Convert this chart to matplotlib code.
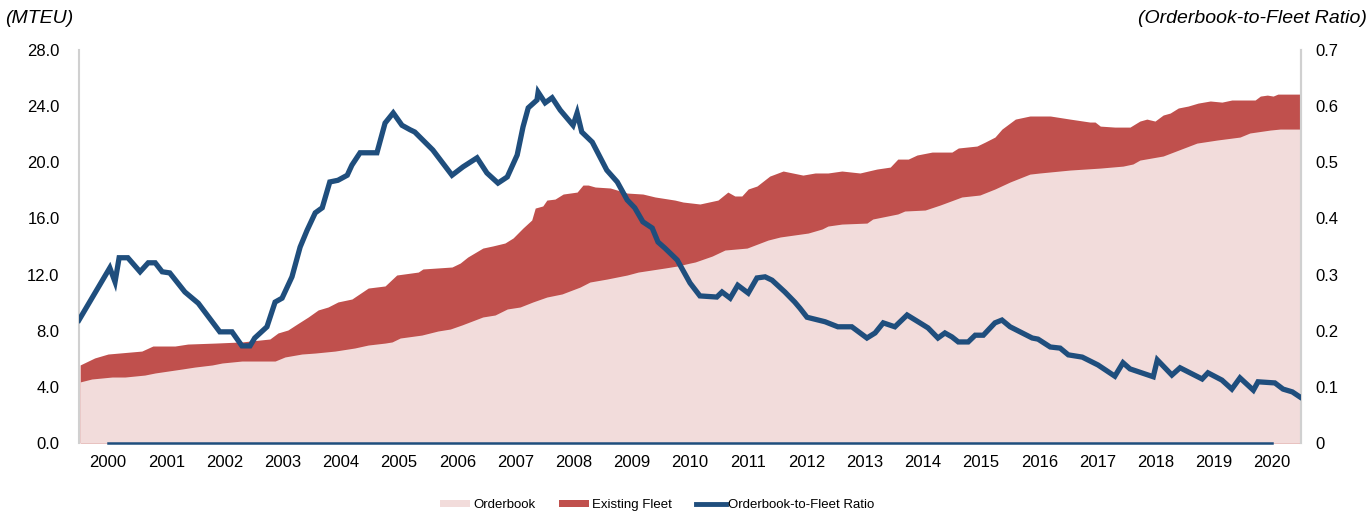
import matplotlib
matplotlib.use("Agg")
import matplotlib.pyplot as plt
from matplotlib.patches import Patch
from matplotlib.lines import Line2D

plt.rcParams['font.family'] = ['Liberation Sans', 'DejaVu Sans']

# ---- Data ----
ratio_x = [2000.0, 2000.53, 2000.62, 2000.69, 2000.84, 2001.05, 2001.19, 2001.31, 2001.43, 2001.56,
           2001.82, 2002.05, 2002.42, 2002.63, 2002.80, 2002.94, 2003.02, 2003.23, 2003.37, 2003.49,
           2003.66, 2003.80, 2003.92, 2004.06, 2004.18, 2004.31, 2004.45, 2004.61, 2004.69, 2004.83,
           2005.12, 2005.26, 2005.40, 2005.55, 2005.69, 2005.77, 2006.08, 2006.41, 2006.60, 2006.84,
           2007.01, 2007.20, 2007.36, 2007.53, 2007.63, 2007.72, 2007.87, 2007.89, 2008.01, 2008.13,
           2008.27, 2008.49, 2008.56, 2008.64, 2008.82, 2009.07, 2009.25, 2009.42, 2009.55, 2009.69,
           2009.85, 2009.95, 2010.07, 2010.28, 2010.50, 2010.67, 2010.96, 2011.05, 2011.19, 2011.32,
           2011.50, 2011.65, 2011.79, 2011.91, 2012.13, 2012.30, 2012.39, 2012.51, 2012.82, 2013.04,
           2013.28, 2013.54, 2013.68, 2013.82, 2014.02, 2014.23, 2014.45, 2014.59, 2014.76, 2014.88,
           2015.00, 2015.11, 2015.28, 2015.40, 2015.54, 2015.74, 2015.86, 2016.00, 2016.38, 2016.48,
           2016.69, 2016.86, 2017.00, 2017.24, 2017.51, 2017.80, 2017.94, 2018.06, 2018.46, 2018.53,
           2018.78, 2018.92, 2019.30, 2019.40, 2019.64, 2019.81, 2019.95, 2020.18, 2020.26, 2020.55,
           2020.69, 2020.85, 2020.98]
ratio_y = [0.219, 0.312, 0.287, 0.330, 0.330, 0.305, 0.321, 0.321, 0.305, 0.303,
           0.269, 0.249, 0.198, 0.198, 0.173, 0.173, 0.187, 0.207, 0.251, 0.258,
           0.296, 0.349, 0.379, 0.410, 0.419, 0.465, 0.468, 0.477, 0.495, 0.517,
           0.517, 0.570, 0.588, 0.566, 0.558, 0.554, 0.522, 0.477, 0.492, 0.508,
           0.481, 0.463, 0.474, 0.513, 0.563, 0.597, 0.611, 0.625, 0.606, 0.615,
           0.593, 0.566, 0.588, 0.554, 0.536, 0.486, 0.465, 0.433, 0.419, 0.394,
           0.383, 0.358, 0.347, 0.326, 0.285, 0.262, 0.260, 0.269, 0.258, 0.281,
           0.267, 0.294, 0.296, 0.290, 0.269, 0.251, 0.240, 0.224, 0.216, 0.207,
           0.207, 0.187, 0.196, 0.214, 0.207, 0.228, 0.214, 0.205, 0.187, 0.196,
           0.189, 0.180, 0.180, 0.192, 0.192, 0.214, 0.219, 0.207, 0.187, 0.185,
           0.171, 0.169, 0.157, 0.153, 0.139, 0.119, 0.143, 0.132, 0.118, 0.148,
           0.121, 0.134, 0.114, 0.125, 0.112, 0.096, 0.116, 0.094, 0.109, 0.107,
           0.096, 0.091, 0.082]

fleet_x = [2000.02, 2000.27, 2000.50, 2001.08, 2001.27, 2001.65, 2001.87, 2002.34, 2002.80, 2003.28,
           2003.42, 2003.59, 2003.75, 2003.94, 2004.11, 2004.28, 2004.45, 2004.69, 2004.97, 2005.26,
           2005.46, 2005.83, 2005.91, 2006.41, 2006.55, 2006.68, 2006.94, 2007.11, 2007.32, 2007.46,
           2007.63, 2007.78, 2007.84, 2007.97, 2008.04, 2008.18, 2008.32, 2008.56, 2008.66, 2008.75,
           2008.87, 2009.13, 2009.42, 2009.69, 2009.90, 2010.24, 2010.38, 2010.67, 2010.98, 2011.15,
           2011.27, 2011.39, 2011.50, 2011.65, 2011.87, 2012.10, 2012.44, 2012.65, 2012.87, 2013.11,
           2013.42, 2013.71, 2013.94, 2014.07, 2014.25, 2014.40, 2014.66, 2015.00, 2015.11, 2015.43,
           2015.57, 2015.74, 2015.86, 2016.09, 2016.34, 2016.69, 2017.03, 2017.37, 2017.46, 2017.55,
           2017.80, 2018.06, 2018.23, 2018.35, 2018.49, 2018.63, 2018.75, 2018.89, 2019.06, 2019.23,
           2019.44, 2019.64, 2019.81, 2020.21, 2020.30, 2020.42, 2020.52, 2020.60, 2021.00]
fleet_y = [5.56, 6.06, 6.34, 6.55, 6.91, 6.91, 7.05, 7.12, 7.20, 7.41,
           7.84, 8.05, 8.48, 8.98, 9.48, 9.69, 10.05, 10.26, 11.04, 11.19,
           11.97, 12.18, 12.40, 12.54, 12.82, 13.25, 13.89, 14.04, 14.25, 14.61,
           15.32, 15.89, 16.74, 16.89, 17.31, 17.38, 17.74, 17.88, 18.38, 18.38,
           18.24, 18.17, 17.81, 17.74, 17.53, 17.31, 17.17, 17.03, 17.31, 17.88,
           17.60, 17.60, 18.10, 18.31, 19.02, 19.38, 19.09, 19.24, 19.24, 19.38,
           19.24, 19.52, 19.66, 20.23, 20.23, 20.52, 20.73, 20.73, 21.02, 21.16,
           21.44, 21.80, 22.37, 23.08, 23.30, 23.30, 23.08, 22.87, 22.87, 22.58,
           22.51, 22.51, 22.94, 23.08, 22.94, 23.37, 23.51, 23.87, 24.01, 24.22,
           24.37, 24.29, 24.44, 24.44, 24.72, 24.79, 24.72, 24.86, 24.86]

order_x = [2000.02, 2000.22, 2000.57, 2000.79, 2001.13, 2001.31, 2001.77, 2001.99, 2002.29, 2002.46,
           2002.80, 2003.37, 2003.54, 2003.83, 2004.06, 2004.40, 2004.74, 2004.97, 2005.26, 2005.38,
           2005.52, 2005.89, 2006.17, 2006.38, 2006.58, 2006.94, 2007.15, 2007.36, 2007.58, 2007.80,
           2008.04, 2008.30, 2008.61, 2008.78, 2009.07, 2009.42, 2009.61, 2010.07, 2010.28, 2010.50,
           2010.59, 2010.88, 2011.10, 2011.48, 2011.84, 2012.05, 2012.53, 2012.77, 2012.87, 2013.11,
           2013.54, 2013.64, 2014.07, 2014.19, 2014.54, 2014.80, 2015.17, 2015.48, 2015.74, 2016.00,
           2016.34, 2016.51, 2017.03, 2017.55, 2017.94, 2018.11, 2018.23, 2018.63, 2019.21, 2019.56,
           2019.95, 2020.12, 2020.47, 2020.64, 2021.00]
order_y = [4.35, 4.56, 4.70, 4.70, 4.84, 4.99, 5.27, 5.41, 5.56, 5.70,
           5.84, 5.84, 6.13, 6.34, 6.41, 6.55, 6.77, 6.98, 7.12, 7.20,
           7.48, 7.69, 7.98, 8.12, 8.41, 8.98, 9.12, 9.55, 9.69, 10.05,
           10.40, 10.62, 11.11, 11.47, 11.68, 11.97, 12.18, 12.47, 12.61, 12.82,
           12.90, 13.32, 13.75, 13.89, 14.46, 14.68, 14.96, 15.25, 15.46, 15.60,
           15.67, 15.96, 16.32, 16.53, 16.60, 16.96, 17.53, 17.67, 18.10, 18.60,
           19.16, 19.24, 19.45, 19.59, 19.73, 19.88, 20.16, 20.45, 21.37, 21.59,
           21.80, 22.09, 22.30, 22.37, 22.37]

years = list(range(2000, 2021))
left_ticks = [0, 4, 8, 12, 16, 20, 24, 28]
right_ticks = [0, 0.1, 0.2, 0.3, 0.4, 0.5, 0.6, 0.7]
right_labels = ['0', '0.1', '0.2', '0.3', '0.4', '0.5', '0.6', '0.7']

# ---- Style ----
PINK = '#F2DCDB'
RED = '#C0504D'
BLUE = '#1F4E7D'
GREY = '#D0D0D0'

fig = plt.figure(figsize=(13.71, 5.16), dpi=100)
ax = fig.add_axes([0.0576, 0.1415, 0.8914, 0.7615])

ax.fill_between(fleet_x, 0, fleet_y, color=RED, linewidth=0, zorder=1)
ax.fill_between(order_x, 0, order_y, color=PINK, linewidth=0, zorder=2)

ax.set_xlim(2000, 2021)
ax.set_ylim(0, 28)
ax.set_yticks(left_ticks)
ax.set_yticklabels([f'{v:.1f}' for v in left_ticks])
ax.set_xticks([y + 0.5 for y in years])
ax.set_xticklabels([str(y) for y in years])
ax.tick_params(axis='both', length=0, labelsize=12, colors='black')
ax.tick_params(axis='y', pad=14)
ax.tick_params(axis='x', pad=9)
for s in ['top', 'bottom']:
    ax.spines[s].set_visible(False)
ax.spines['left'].set_color(GREY)
ax.spines['left'].set_linewidth(1.5)
ax.spines['right'].set_color(GREY)
ax.spines['right'].set_linewidth(1.5)

ax2 = ax.twinx()
ax2.set_ylim(0, 0.7)
ax2.set_yticks(right_ticks)
ax2.set_yticklabels(right_labels)
ax2.tick_params(axis='y', length=0, labelsize=12, pad=10)
for s in ['top', 'bottom', 'left']:
    ax2.spines[s].set_visible(False)
ax2.spines['right'].set_color(GREY)
ax2.spines['right'].set_linewidth(1.5)
ax2.plot(ratio_x, ratio_y, color=BLUE, linewidth=3.8, solid_joinstyle='miter', zorder=5)
ax2.plot([years[0] + 0.5, years[-1] + 0.5], [0, 0], color=BLUE, linewidth=1.8,
         clip_on=False, zorder=5)

fig.text(0.004, 0.965, '(MTEU)', fontsize=14, style='italic', ha='left', va='center')
fig.text(0.997, 0.965, '(Orderbook-to-Fleet Ratio)', fontsize=14, style='italic',
         ha='right', va='center')

handles = [Patch(facecolor=PINK, edgecolor='none', label='Orderbook'),
           Patch(facecolor=RED, edgecolor='none', label='Existing Fleet'),
           Line2D([0], [0], color=BLUE, linewidth=3.5, label='Orderbook-to-Fleet Ratio')]
fig.legend(handles=handles, loc='center', bbox_to_anchor=(0.4795, 0.021), ncol=3,
           frameon=False, fontsize=9.5, handlelength=2.3, handleheight=0.55,
           handletextpad=0.2, columnspacing=1.8)

fig.savefig('out.png', dpi=100)
